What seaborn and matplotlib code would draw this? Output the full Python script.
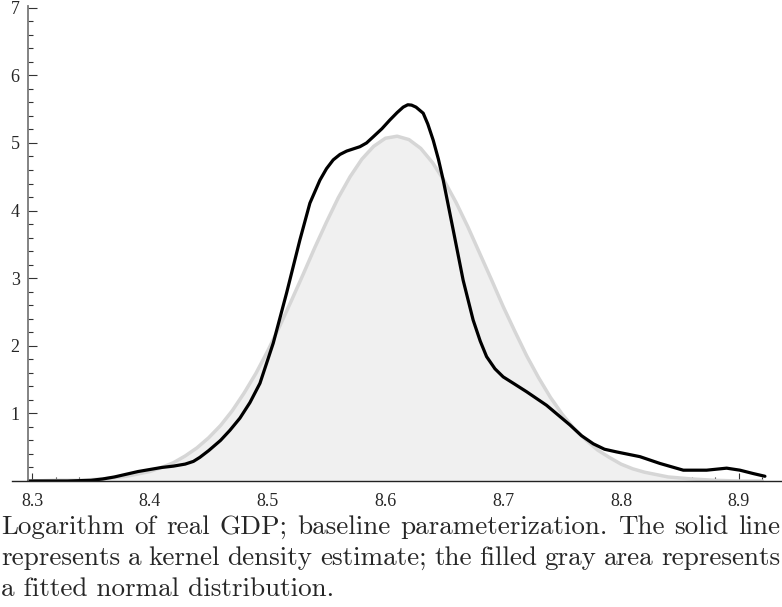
import numpy as np
import pandas as pd
import matplotlib
matplotlib.use("Agg")
import matplotlib.pyplot as plt
from matplotlib.ticker import FixedLocator
import seaborn as sns

# fitted normal distribution (gray)
normal_gdp = [8.30, 8.32, 8.34, 8.36, 8.38, 8.40, 8.41, 8.42, 8.43, 8.44, 8.45, 8.46,
              8.47, 8.48, 8.49, 8.50, 8.51, 8.52, 8.53, 8.54, 8.55, 8.56, 8.57, 8.58,
              8.59, 8.60, 8.61, 8.62, 8.63, 8.64, 8.65, 8.66, 8.67, 8.68, 8.69, 8.70,
              8.71, 8.72, 8.73, 8.74, 8.75, 8.76, 8.77, 8.78, 8.79, 8.80, 8.81, 8.82,
              8.84, 8.86, 8.88, 8.90, 8.92]
normal_dens = [0.00, 0.01, 0.01, 0.03, 0.07, 0.14, 0.20, 0.27, 0.37, 0.49, 0.64, 0.82,
               1.04, 1.30, 1.59, 1.92, 2.28, 2.66, 3.05, 3.45, 3.83, 4.19, 4.50, 4.76,
               4.95, 5.07, 5.10, 5.05, 4.92, 4.71, 4.44, 4.12, 3.76, 3.37, 2.98, 2.58,
               2.21, 1.85, 1.53, 1.24, 0.99, 0.78, 0.61, 0.46, 0.35, 0.25, 0.18, 0.13,
               0.06, 0.03, 0.01, 0.00, 0.00]

# kernel density estimate (black line)
kde_gdp = [8.297, 8.33, 8.35, 8.36, 8.37, 8.38, 8.39, 8.40, 8.41, 8.42, 8.43, 8.437,
           8.4425, 8.45, 8.46, 8.468, 8.4765, 8.485, 8.4935, 8.5048, 8.5161, 8.5274,
           8.5359, 8.5444, 8.55, 8.5557, 8.5614, 8.5671, 8.5784, 8.584, 8.5896, 8.597,
           8.6038, 8.61, 8.6151, 8.619, 8.6222, 8.626, 8.6321, 8.636, 8.6406, 8.645,
           8.6491, 8.6576, 8.666, 8.6745, 8.6805, 8.6859, 8.693, 8.70, 8.71, 8.7199,
           8.7368, 8.7566, 8.7665, 8.7765, 8.786, 8.7963, 8.8161, 8.833, 8.8529,
           8.8727, 8.8897, 8.901, 8.9123, 8.9222]
kde_dens = [0.00, 0.00, 0.01, 0.03, 0.06, 0.10, 0.14, 0.17, 0.20, 0.22, 0.25, 0.29,
            0.35, 0.45, 0.60, 0.75, 0.93, 1.16, 1.445, 2.04, 2.78, 3.565,
            4.11, 4.45, 4.62, 4.75, 4.83, 4.88, 4.945, 5.00, 5.09, 5.21,
            5.34, 5.45, 5.53, 5.565, 5.56, 5.53, 5.44, 5.28, 5.04, 4.76,
            4.45, 3.71, 2.97, 2.38, 2.07, 1.84, 1.66, 1.54, 1.43, 1.32,
            1.12, 0.83, 0.67, 0.55, 0.47, 0.43, 0.36, 0.26, 0.16,
            0.16, 0.19, 0.16, 0.11, 0.07]

x_ticks = [8.3, 8.4, 8.5, 8.6, 8.7, 8.8, 8.9]
y_ticks = [1, 2, 3, 4, 5, 6, 7]

caption = ["Logarithm of real GDP; baseline parameterization. The solid line",
           "represents a kernel density estimate; the filled gray area represents",
           "a fitted normal distribution."]

sns.set_style("white")
plt.rcParams["font.family"] = ["Liberation Serif", "DejaVu Serif"]

W, H = 782, 607
fig = plt.figure(figsize=(W / 100, H / 100), dpi=100)
ax = fig.add_axes([12 / W, 126 / H, 770 / W, 474.6 / H])

norm_df = pd.DataFrame({"gdp": normal_gdp, "density": normal_dens})
kde_df = pd.DataFrame({"gdp": kde_gdp, "density": kde_dens})

ax.fill_between(norm_df["gdp"], 0, norm_df["density"], color="#f0f0f0", lw=0)
sns.lineplot(data=norm_df, x="gdp", y="density", color="#d6d6d6", lw=2.5,
             sort=False, estimator=None, ax=ax)
sns.lineplot(data=kde_df, x="gdp", y="density", color="black", lw=2.3,
             sort=False, estimator=None, ax=ax)
for line in ax.lines:
    line.set_solid_joinstyle("round")

ax.set_xlim(8.283, 8.9367)
ax.set_ylim(0, 7.02)
ax.set_xlabel("")
ax.set_ylabel("")

for s in ["top", "right"]:
    ax.spines[s].set_visible(False)
ax.spines["left"].set_position(("data", 8.2966))
ax.spines["left"].set_color("#7a7a7a")
ax.spines["left"].set_linewidth(1.3)
ax.spines["bottom"].set_color("#222222")
ax.spines["bottom"].set_linewidth(1.0)

ax.set_xticks(x_ticks)
ax.set_xticklabels([f"{t:.1f}" for t in x_ticks])
ax.set_yticks(y_ticks)
ax.set_yticklabels([str(t) for t in y_ticks])
ax.xaxis.set_minor_locator(FixedLocator([v for v in np.arange(8.30, 8.93, 0.02)
                                         if abs(v * 10 - round(v * 10)) > 1e-6]))
ax.yaxis.set_minor_locator(FixedLocator([v for v in np.arange(0.2, 7.0, 0.2)
                                         if abs(v - round(v)) > 1e-6]))

ax.tick_params(which="both", bottom=True, left=True)
ax.tick_params(axis="x", which="major", direction="in", length=6, width=0.8,
               color="#333333", labelsize=13, pad=9)
ax.tick_params(axis="x", which="minor", direction="in", length=3, width=0.8,
               color="#333333")
ax.tick_params(axis="y", which="major", direction="in", length=6.5, width=0.8,
               color="#333333", labelsize=13, pad=6)
ax.tick_params(axis="y", which="minor", direction="in", length=3.6, width=0.8,
               color="#333333")

# caption below the plot, justified like the typeset original
renderer = fig.canvas.get_renderer()
baselines = [534, 565, 596]
left_px, right_px = 1, 780
for i, (line, base) in enumerate(zip(caption, baselines)):
    yf = 1 - base / H
    if i == len(caption) - 1:
        fig.text(left_px / W, yf, line, fontfamily="cmr10", fontsize=19.5,
                 va="baseline", ha="left")
        continue
    words = line.split()
    texts = [fig.text(0, yf, w, fontfamily="cmr10", fontsize=19.5,
                      va="baseline", ha="left") for w in words]
    widths = [t.get_window_extent(renderer).width for t in texts]
    gap = (right_px - left_px - sum(widths)) / (len(words) - 1)
    x = left_px
    for t, w in zip(texts, widths):
        t.set_x(x / W)
        x += w + gap

fig.savefig("out.png", dpi=100)
